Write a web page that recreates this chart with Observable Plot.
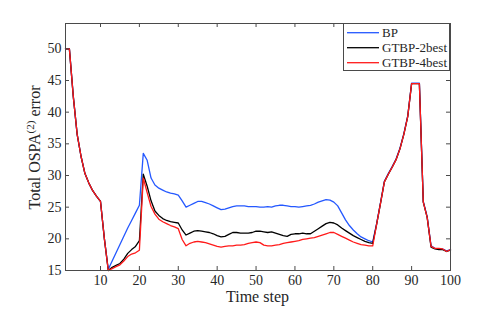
<!DOCTYPE html>
<html><head><meta charset="utf-8">
<script src="https://cdn.jsdelivr.net/npm/d3@7"></script>
<script src="https://cdn.jsdelivr.net/npm/@observablehq/plot@0.6"></script>
<style>body{margin:0;background:#fff;}</style>
</head><body><div id="chart"></div>
<script>
const steps = d3.range(1, 101);
const xTicks = [10, 20, 30, 40, 50, 60, 70, 80, 90, 100];
const yTicks = [15, 20, 25, 30, 35, 40, 45, 50];
const seriesNames = ["BP", "GTBP-2best", "GTBP-4best"];

const bp = [
  50, 50, 42.5, 36.5, 33, 30.3, 28.8, 27.6, 26.7, 25.9,
  20, 15.2, 16.5, 17.8, 19.1, 20.4, 21.7, 22.9, 24.1, 25.3,
  33.5, 32.4, 29.6, 28.5, 28.0, 27.7, 27.4, 27.2, 27.1, 26.9,
  26.0, 25.0, 25.3, 25.6, 25.9, 25.9, 25.7, 25.5, 25.2, 24.9,
  24.6, 24.7, 24.9, 25.1, 25.2, 25.2, 25.2, 25.1, 25.1, 25.1,
  25.0, 25.0, 25.1, 25.0, 25.2, 25.3, 25.3, 25.2, 25.1, 25.1,
  25.0, 25.1, 25.2, 25.3, 25.5, 25.8, 26.0, 26.2, 26.1, 25.8,
  25.2, 24.1, 23.0, 22.1, 21.4, 20.8, 20.3, 20.0, 19.7, 19.5,
  22.4, 25.7, 29.1, 30.3, 31.4, 32.6, 34.3, 36.6, 39.4, 44.6,
  44.6, 44.6, 25.9, 23.5, 18.9, 18.5, 18.4, 18.4, 18.1, 18.3
];
const gt2 = [
  50, 50, 42.5, 36.5, 33, 30.3, 28.8, 27.6, 26.7, 25.9,
  20, 15.0, 15.5, 15.8, 16.1, 16.8, 17.7, 18.3, 18.8, 19.7,
  30.2, 28.3, 26.0, 24.4, 23.7, 23.2, 22.9, 22.7, 22.6, 22.5,
  21.4, 20.6, 20.9, 21.2, 21.3, 21.2, 21.1, 21.0, 20.8, 20.5,
  20.3, 20.4, 20.7, 21.0, 21.0, 20.9, 20.9, 20.9, 21.0, 21.2,
  21.2, 21.1, 21.0, 21.1, 20.9, 20.7, 20.5, 20.4, 20.7, 20.8,
  20.8, 20.9, 20.8, 20.8, 21.2, 21.6, 22.0, 22.4, 22.6, 22.5,
  22.2, 21.7, 21.3, 20.9, 20.5, 20.2, 19.9, 19.6, 19.4, 19.3,
  22.3, 25.6, 29.0, 30.2, 31.3, 32.5, 34.2, 36.5, 39.3, 44.5,
  44.5, 44.5, 25.8, 23.4, 18.7, 18.4, 18.3, 18.3, 18.0, 18.2
];
const gt4 = [
  50, 50, 42.5, 36.5, 33, 30.3, 28.8, 27.6, 26.7, 25.9,
  20, 15.0, 15.3, 15.6, 15.9, 16.5, 17.2, 17.6, 17.8, 18.2,
  29.6, 27.3, 25.1, 23.9, 23.1, 22.7, 22.4, 22.1, 21.9, 21.6,
  19.9, 18.9, 19.3, 19.5, 19.6, 19.5, 19.4, 19.2, 19.0, 18.8,
  18.7, 18.8, 18.9, 18.9, 19.0, 19.0, 19.1, 19.3, 19.4, 19.5,
  19.4, 19.0, 18.9, 18.9, 19.0, 19.1, 19.3, 19.4, 19.5, 19.6,
  19.7, 19.9, 20.0, 20.1, 20.2, 20.4, 20.6, 20.8, 21.0, 21.0,
  20.7, 20.4, 20.1, 19.8, 19.5, 19.3, 19.1, 19.0, 18.9, 18.9,
  22.3, 25.6, 29.0, 30.2, 31.3, 32.5, 34.2, 36.5, 39.3, 44.5,
  44.5, 44.5, 25.8, 23.4, 18.8, 18.5, 18.5, 18.4, 18.0, 18.3
];

const colors = ["#2458ff", "#000000", "#ff1a1a"];
const W = 498, H = 313, mL = 65, mR = 48, mT = 23, mB = 43;
const innerW = W - mL - mR, innerH = H - mT - mB;
const axisColor = "#4a4a4a";
const textColor = "#262626";
const font = "'Liberation Serif','Times New Roman',Times,serif";

const plot = Plot.plot({
  width: W, height: H,
  marginLeft: mL, marginRight: mR, marginTop: mT, marginBottom: mB,
  style: {fontFamily: font, fontSize: "14px", background: "#fff", color: textColor},
  x: {domain: [1, 100]},
  y: {domain: [15, 54]},
  marks: [
    Plot.line(bp, {x: steps, y: bp, stroke: colors[0], strokeWidth: 1.3}),
    Plot.line(gt2, {x: steps, y: gt2, stroke: colors[1], strokeWidth: 1.3}),
    Plot.line(gt4, {x: steps, y: gt4, stroke: colors[2], strokeWidth: 1.3}),
    Plot.tickX(xTicks, {x: d => d, stroke: axisColor, insetTop: innerH - 4}),
    Plot.tickX(xTicks, {x: d => d, stroke: axisColor, insetBottom: innerH - 4}),
    Plot.tickY(yTicks, {y: d => d, stroke: axisColor, insetRight: innerW - 4}),
    Plot.tickY(yTicks, {y: d => d, stroke: axisColor, insetLeft: innerW - 4}),
    Plot.axisX({ticks: xTicks, tickSize: 0, tickPadding: 5, label: null, fontSize: 14, fontFamily: font, fill: textColor}),
    Plot.axisY({ticks: yTicks, tickSize: 0, tickPadding: 4, label: null, fontSize: 14, fontFamily: font, fill: textColor}),
    Plot.frame({stroke: axisColor})
  ]
});
document.getElementById("chart").appendChild(plot);

const svg = d3.select(plot);
// axis labels
svg.append("text")
  .attr("x", (mL + W - mR) / 2).attr("y", 302)
  .attr("text-anchor", "middle")
  .attr("font-family", font).attr("font-size", 16).attr("fill", textColor)
  .text("Time step");
const yl = svg.append("text")
  .attr("transform", `translate(40,${mT + innerH / 2 + 1}) rotate(-90)`)
  .attr("text-anchor", "middle")
  .attr("font-family", font).attr("font-size", 16).attr("fill", textColor);
yl.append("tspan").text("Total OSPA");
yl.append("tspan").attr("font-size", 11).attr("dy", -6).text("(2)");
yl.append("tspan").attr("dy", 6).text(" error");

// legend
const lg = svg.append("g");
lg.append("rect")
  .attr("x", 343.5).attr("y", 23.5).attr("width", 106).attr("height", 47)
  .attr("fill", "#fff").attr("stroke", axisColor);
seriesNames.forEach((name, i) => {
  const yy = 32.7 + i * 15;
  lg.append("line").attr("x1", 347).attr("x2", 379).attr("y1", yy).attr("y2", yy)
    .attr("stroke", colors[i]).attr("stroke-width", 1.3);
  lg.append("text").attr("x", 382).attr("y", yy).attr("dy", "0.35em")
    .attr("text-anchor", "start")
    .attr("font-family", font).attr("font-size", 13).attr("fill", textColor)
    .text(name);
});
</script>
</body></html>
